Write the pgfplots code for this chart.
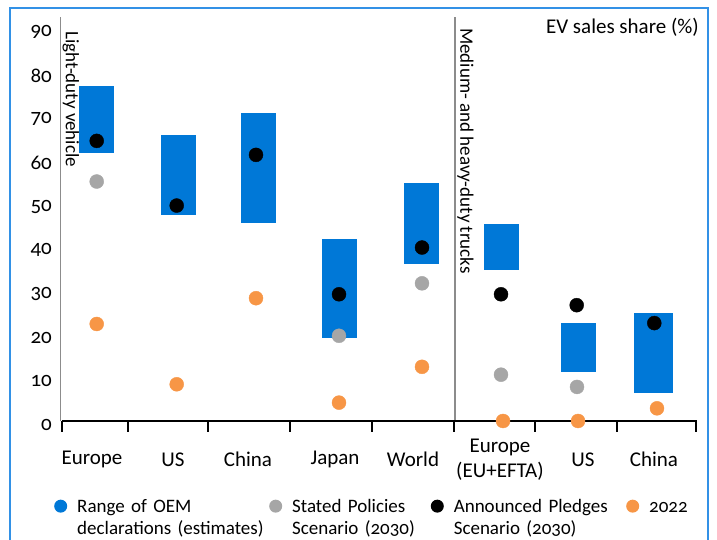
\documentclass[border=0pt]{standalone}
\usepackage{fontspec}
\setmainfont{Carlito}[Numbers=OldStyle]
\usepackage{pgfplots}
\usepackage{pgfplotstable}
\pgfplotsset{compat=1.18}

\definecolor{oemblue}{RGB}{0,120,215}
\definecolor{stgray}{RGB}{166,166,166}
\definecolor{orange22}{RGB}{247,150,70}
\definecolor{framecol}{RGB}{50,145,230}
\definecolor{sepgray}{RGB}{140,140,140}

\newcommand{\fa}{\fontsize{21pt}{25pt}\selectfont}
\newcommand{\fb}{\fontsize{19pt}{22pt}\selectfont}

% x = position of the group along the axis, lo/hi = range of OEM declarations
\pgfplotstableread{
x     lo    hi
96.7  61.4  76.7
178.5 47.2  65.4
258.5 45.4  70.5
339.5 19.1  41.6
421.5 36.0  54.4
501.5 34.6  45.1
578.5 11.3  22.4
}\oemrange
\pgfplotstableread{
x     lo    hi
653.3 6.5   24.6
}\oemchina

% Announced Pledges Scenario (2030)
\pgfplotstableread{
x     y
96.7  64.1
176.7 49.3
256.0 60.9
339.0 29.0
422.0 39.7
501.0 29.0
576.7 26.5
654.3 22.4
}\aps

% Stated Policies Scenario (2030)
\pgfplotstableread{
x     y
96.7  54.8
339.0 19.5
422.0 31.5
501.0 10.6
577.0 7.8
}\steps

% 2022
\pgfplotstableread{
x     y
96.7  22.2
176.7 8.4
256.0 28.1
339.0 4.2
422.0 12.4
503.0 0.0
578.0 0.0
657.0 2.9
}\sales

\begin{document}
\begin{tikzpicture}
\useasboundingbox (0pt,0pt) rectangle (717pt,540pt);
\draw[framecol, line width=2pt] (10pt,-2pt) -- (10pt,532pt) -- (708pt,532pt) -- (708pt,-2pt);
\draw[sepgray, line width=1.5pt] (60.5pt,119pt) -- (60.5pt,523pt);
\draw[sepgray, line width=1.5pt] (455pt,119pt) -- (455pt,523pt);

\begin{axis}[
    at={(62pt,119pt)}, anchor=south west,
    scale only axis,
    width=635pt, height=404pt,
    xmin=62, xmax=697, ymin=0, ymax=92.45,
    clip=false,
    axis x line*=bottom, axis y line*=left,
    x axis line style={line width=2pt, black, -},
    y axis line style={draw=none},
    xtick={92,173,248,335,413,500,583,654},
    xticklabels={Europe, US, China, Japan, World, {Europe\\(EU+EFTA)}, US, China},
    minor xtick={62,128,208,290,372,454,535,617,696},
    ytick={0,10,...,90},
    major tick length=0pt, minor tick length=11pt, tick align=outside,
    every minor tick/.append style={line width=2pt, black},
    tick label style={font=\fa},
    xticklabel style={anchor=center, yshift=-38.5pt, align=center},
    yticklabel style={anchor=east, inner sep=0pt, xshift=-10pt, yshift=-4pt},
    /pgf/number format/assume math mode=true,
    legend columns=4,
    legend style={at={(-0.0123,-0.188)}, anchor=north west, draw=none, fill=none,
        inner sep=0pt, outer sep=0pt, column sep=0pt, row sep=0pt, font=\fb,
        cells={anchor=base west, inner sep=0pt}},
    legend image code/.code={\path (0pt,0pt) (21pt,0pt); \fill[#1] (6.5pt,6pt) circle (6.5pt);},
]
\addplot[forget plot, draw=none, mark=none,
    error bars/.cd, y dir=plus, y explicit, error mark=none,
    error bar style={draw=oemblue, line width=35pt}]
    table[x=x, y=lo, y error expr=\thisrow{hi}-\thisrow{lo}] {\oemrange};
\addplot[forget plot, draw=none, mark=none,
    error bars/.cd, y dir=plus, y explicit, error mark=none,
    error bar style={draw=oemblue, line width=38.5pt}]
    table[x=x, y=lo, y error expr=\thisrow{hi}-\thisrow{lo}] {\oemchina};
\addplot[forget plot, only marks, mark=*, mark size=7pt, color=stgray] table {\steps};
\addplot[forget plot, only marks, mark=*, mark size=7pt, color=orange22] table {\sales};
\addplot[forget plot, only marks, mark=*, mark size=7pt, color=black] table {\aps};

\addlegendimage{fill=oemblue, draw=none}
\addlegendentry[text width=190pt, align=left]{Range of OEM\\declarations (estimates)}
\addlegendimage{fill=stgray, draw=none}
\addlegendentry[text width=136.6pt, align=left]{Stated Policies\\Scenario (2030)}
\addlegendimage{fill=black, draw=none}
\addlegendentry[text width=170.4pt, align=left]{Announced Pledges\\Scenario (2030)}
\addlegendimage{fill=orange22, draw=none}
\addlegendentry{2022}
\end{axis}

\node[rotate=-90, anchor=south west, inner sep=0pt, font=\fb] at (62.5pt,509pt) {Light-duty vehicle};
\node[rotate=-90, anchor=south west, inner sep=0pt, font=\fb] at (457pt,512pt) {Medium- and heavy-duty trucks};
\node[anchor=east, inner sep=0pt, font=\fa] at (699pt,513pt) {EV sales share (\%)};
\end{tikzpicture}
\end{document}
